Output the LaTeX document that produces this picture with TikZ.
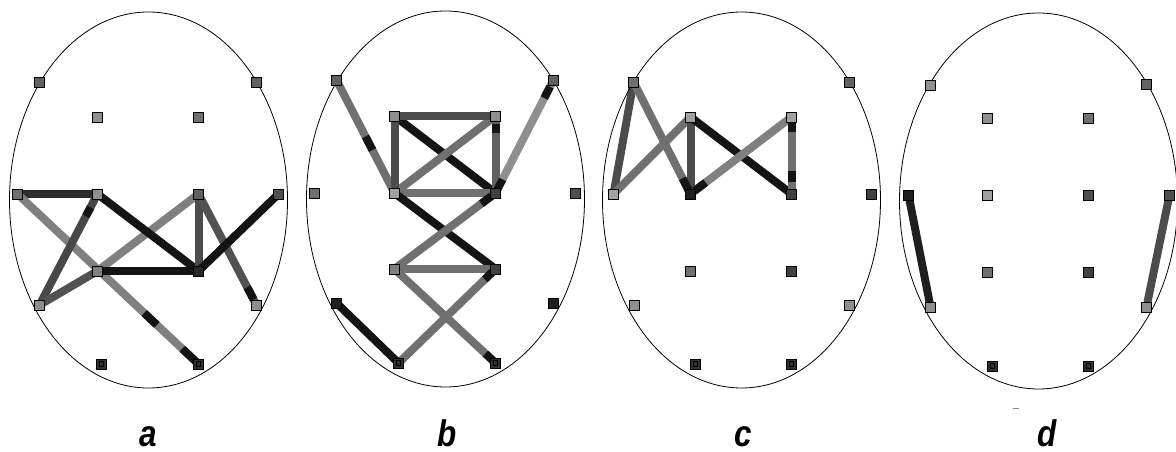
\documentclass[tikz,border=0pt]{standalone}
\usepackage{fontspec}
\newfontfamily\labelfont{Liberation Sans}[BoldItalicFont={Liberation Sans Bold Italic}]
\usetikzlibrary{calc}
\pgfdeclarelayer{wires}
\pgfsetlayers{wires,main}

\tikzset{
  head/.style={line width=0.8pt},
  elec/.style={draw=black, line width=0.8pt, fill=#1, minimum size=10pt, inner sep=0pt, outer sep=0pt},
  pit/.style={draw=black, line width=0.6pt, minimum size=4.5pt, inner sep=0pt},
  link/.style={line width=8pt, draw=#1},
  blob/.style={line width=8pt, draw=black!92},
  panellabel/.style={font=\labelfont\bfseries\itshape\fontsize{37}{37}\selectfont, anchor=base, inner sep=0pt}
}

% short dark piece on a link, between fractions #3 and #4
\newcommand\blob[4]{\draw[blob] ($(#1.center)!#3!(#2.center)$) -- ($(#1.center)!#4!(#2.center)$);}

\begin{document}
\begin{tikzpicture}[x=1pt, y=-1pt]
    \useasboundingbox (0,0) rectangle (1176,452);

    % Panel a
    \begin{scope}[shift={(148.5,200)}]
        \draw[head] (0,0) ellipse (139 and 188);
        \foreach \n/\x/\y/\s in {Fp1/-109/-118/62, Fp2/108/-118/62, F3/-51/-83/44, F4/50/-83/56,
            T3/-131/-6/56, C3/-51/-6/44, C4/50/-6/62, T4/130/-6/69,
            P3/-51/71/50, P4/50/71/85, T5/-109/105/44, T6/108/105/44,
            O1/-47/164/81, O2/50/164/81} {
            \node[elec=black!\s] (a\n) at (\x,\y) {};
        }
        \foreach \n in {O1,O2} \node[pit] (a\n in) at (a\n) {};
        \begin{pgfonlayer}{wires}
            \draw[link=black!82] (aT3.center) -- (aC3.center);
            \draw[link=black!50] (aT3.center) -- (aO2.center);
            \draw[link=black!72] (aC3.center) -- (aT5.center);
            \draw[link=black!68] (aT5.center) -- (aP3.center);
            \draw[link=black!50] (aP3.center) -- (aC4.center);
            \draw[link=black!92] (aC3.center) -- (aP4.center);
            \draw[link=black!92] (aP3.center) -- (aP4.center);
            \draw[link=black!70] (aC4.center) -- (aP4.center);
            \draw[link=black!68] (aC4.center) -- (aT6.center);
            \draw[link=black!92] (aP4.center) -- (aT4.center);
            \blob{aT3}{aO2}{0.70}{0.77}
            \blob{aT3}{aO2}{0.91}{1}
            \blob{aC3}{aT5}{0.12}{0.2}
            \blob{aC4}{aT6}{0.84}{0.95}
        \end{pgfonlayer}
        \node[panellabel] (alabel) at (0,246) {\scalebox{0.85}[1]{a}};
    \end{scope}

    % Panel b
    \begin{scope}[shift={(445.5,199)}]
        \draw[head] (0,0) ellipse (139 and 188);
        \foreach \n/\x/\y/\s in {Fp1/-109/-119/62, Fp2/108/-119/62, F3/-51/-83/44, F4/50/-83/44,
            T3/-131/-6/56, C3/-51/-6/37, C4/50/-6/75, T4/130/-6/69,
            P3/-51/70/50, P4/50/70/75, T5/-109/104/88, T6/108/104/88,
            O1/-47/164/81, O2/50/164/81} {
            \node[elec=black!\s] (b\n) at (\x,\y) {};
        }
        \foreach \n in {O1,O2} \node[pit] (b\n in) at (b\n) {};
        \begin{pgfonlayer}{wires}
            \draw[link=black!56] (bFp1.center) -- (bC3.center);
            \draw[link=black!92] (bF3.center) -- (bC4.center);
            \draw[link=black!56] (bC3.center) -- (bF4.center);
            \draw[link=black!70] (bF3.center) -- (bF4.center);
            \draw[link=black!70] (bF3.center) -- (bC3.center);
            \draw[link=black!62] (bF4.center) -- (bC4.center);
            \draw[link=black!56] (bC3.center) -- (bC4.center);
            \draw[link=black!44] (bFp2.center) -- (bC4.center);
            \draw[link=black!92] (bC3.center) -- (bP4.center);
            \draw[link=black!56] (bC4.center) -- (bP3.center);
            \draw[link=black!56] (bP3.center) -- (bP4.center);
            \draw[link=black!56] (bP3.center) -- (bO2.center);
            \draw[link=black!56] (bP4.center) -- (bO1.center);
            \draw[link=black!92] (bT5.center) -- (bO1.center);
            \blob{bFp1}{bC3}{0.5}{0.62}
            \blob{bF4}{bC4}{0.1}{0.22}
            \blob{bFp2}{bC4}{0.06}{0.16}
            \blob{bFp2}{bC4}{0.88}{1}
            \blob{bC4}{bP3}{0.04}{0.14}
            \blob{bP4}{bO1}{0.03}{0.11}
            \blob{bP3}{bO2}{0.9}{1}
        \end{pgfonlayer}
        \node[panellabel] (blabel) at (2,247) {\scalebox{0.85}[1]{b}};
    \end{scope}

    % Panel c
    \begin{scope}[shift={(741.5,200)}]
        \draw[head] (0,0) ellipse (139 and 188);
        \foreach \n/\x/\y/\s in {Fp1/-108/-118/56, Fp2/108/-118/62, F3/-51/-83/37, F4/50/-83/37,
            T3/-128/-6/37, C3/-51/-6/88, C4/50/-6/75, T4/130/-6/75,
            P3/-51/71/56, P4/50/71/75, T5/-107/105/44, T6/108/105/44,
            O1/-46/164/81, O2/50/164/81} {
            \node[elec=black!\s] (c\n) at (\x,\y) {};
        }
        \foreach \n in {O1,O2} \node[pit] (c\n in) at (c\n) {};
        \begin{pgfonlayer}{wires}
            \draw[link=black!70] (cFp1.center) -- (cT3.center);
            \draw[link=black!56] (cT3.center) -- (cF3.center);
            \draw[link=black!56] (cFp1.center) -- (cC3.center);
            \draw[link=black!70] (cF3.center) -- (cC3.center);
            \draw[link=black!92] (cF3.center) -- (cC4.center);
            \draw[link=black!50] (cC3.center) -- (cF4.center);
            \draw[link=black!56] (cF4.center) -- (cC4.center);
            \blob{cFp1}{cC3}{0.86}{1}
            \blob{cC3}{cF4}{0.04}{0.15}
            \blob{cF4}{cC4}{0.08}{0.2}
            \blob{cF4}{cC4}{0.7}{0.85}
        \end{pgfonlayer}
        \node[panellabel] (clabel) at (1.5,246) {\scalebox{0.85}[1]{c}};
    \end{scope}

    % Panel d
    \begin{scope}[shift={(1038.5,201)}]
        \draw[head] (0,0) ellipse (139 and 188);
        \foreach \n/\x/\y/\s in {Fp1/-108/-116/44, Fp2/108/-117/62, F3/-51/-83/44, F4/50/-83/56,
            T3/-130/-6/88, C3/-51/-6/37, C4/50/-6/69, T4/131/-6/69,
            P3/-51/71/56, P4/50/71/75, T5/-108/106/44, T6/108/106/44,
            O1/-46/165/81, O2/50/165/81} {
            \node[elec=black!\s] (d\n) at (\x,\y) {};
        }
        \foreach \n in {O1,O2} \node[pit] (d\n in) at (d\n) {};
        \begin{pgfonlayer}{wires}
            \draw[link=black!88] (dT3.center) -- (dT5.center);
            \draw[link=black!70] (dT4.center) -- (dT6.center);
        \end{pgfonlayer}
        \node[panellabel] (dlabel) at (9,245) {\scalebox{0.85}[1]{d}};
        \draw[black!45, line width=1pt] (-26,207) -- (-20,207);
    \end{scope}
\end{tikzpicture}
\end{document}
